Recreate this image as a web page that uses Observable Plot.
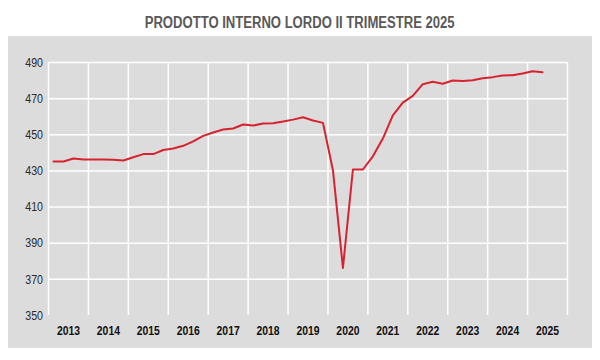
<!DOCTYPE html>
<html><head><meta charset="utf-8">
<script src="https://cdn.jsdelivr.net/npm/d3@7"></script>
<script src="https://cdn.jsdelivr.net/npm/@observablehq/plot@0.6"></script>
<style>
body{margin:0;background:#fff;width:600px;height:360px;overflow:hidden;position:relative;font-family:"Liberation Sans",Arial,sans-serif;}
#title{position:absolute;left:0;top:14px;width:600px;text-align:center;font-weight:bold;font-size:16px;line-height:18px;color:#595959;}
#title span{display:inline-block;transform:scaleX(0.817);transform-origin:center;white-space:nowrap;}
#panel{position:absolute;left:8px;top:36px;width:584px;height:312px;background:#dcdcdc;}
#panel svg{display:block;background:transparent;}
</style></head>
<body>
<div id="title"><span>PRODOTTO INTERNO LORDO II TRIMESTRE 2025</span></div>
<div id="panel"></div>
<script>
const years = [2013,2014,2015,2016,2017,2018,2019,2020,2021,2022,2023,2024,2025];
const yTicks = [350,370,390,410,430,450,470,490];
const gdp = [
  435.2, 435.2, 436.9, 436.3,
  436.3, 436.3, 436.2, 435.8,
  437.6, 439.3, 439.3, 441.6,
  442.4, 443.9, 446.4, 449.4,
  451.3, 452.9, 453.5, 455.7,
  455.1, 456.2, 456.4, 457.3,
  458.4, 459.7, 457.9, 456.6,
  430.4, 376.3, 430.8, 430.8,
  438.1, 447.9, 460.8, 467.8,
  471.5, 478.0, 479.3, 478.2,
  480.0, 479.7, 480.2, 481.3,
  481.9, 482.8, 483.0, 483.9,
  485.2, 484.6
];
const data = gdp.map((v, i) => ({year: years[Math.floor(i / 4)], q: i % 4, value: v}));

const chart = Plot.plot({
  width: 584,
  height: 312,
  marginLeft: 40,
  marginRight: 25,
  marginTop: 26,
  marginBottom: 33,
  style: {background: "transparent", fontFamily: '"Liberation Sans",Arial,sans-serif'},
  x: {domain: [years[0], years[years.length - 1] + 1]},
  y: {domain: [yTicks[0], yTicks[yTicks.length - 1]]},
  marks: [
    Plot.gridX([...years, years[years.length - 1] + 1], {stroke: "#fff", strokeOpacity: 1, strokeWidth: 1.5}),
    Plot.gridY(yTicks.slice(1), {stroke: "#fff", strokeOpacity: 1, strokeWidth: 1.5}),
    Plot.axisY(yTicks, {tickSize: 0, tickPadding: 5.5, fontSize: 13, fill: "#2a2a2a", label: null}),
    Plot.axisX(years.map(y => y + 0.5), {tickSize: 0, tickPadding: 10, fontSize: 13, fontWeight: "bold", fill: "#111", label: null, tickFormat: d => String(d - 0.5)}),
    Plot.line(data, {x: d => d.year + (d.q + 0.5) / 4, y: "value", stroke: "#d7222f", strokeWidth: 2})
  ]
});
// narrow the tick labels (Arial Narrow look), keeping their anchor positions
function condense(sel, k) {
  sel.each(function() {
    const t = this.getAttribute("transform") || "";
    const xa = this.getAttribute("x");
    if (xa !== null && !isNaN(+xa)) this.setAttribute("x", +xa / k);
    this.setAttribute("transform", `${t} scale(${k},1)`);
  });
}
condense(d3.select(chart).selectAll("g[aria-label='y-axis tick label'] text"), 0.82);
condense(d3.select(chart).selectAll("g[aria-label='x-axis tick label'] text"), 0.8);
document.getElementById("panel").appendChild(chart);
</script>
</body></html>
